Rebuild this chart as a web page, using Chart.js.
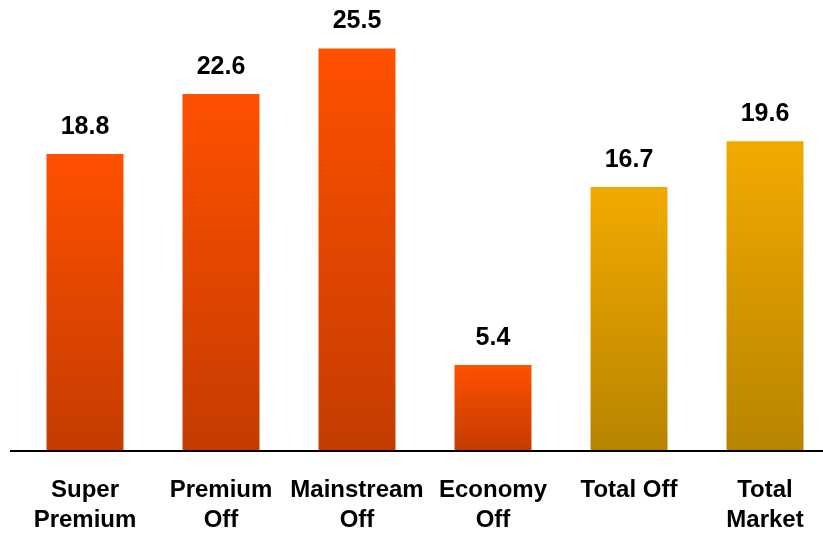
<!DOCTYPE html>
<html>
<head>
<meta charset="utf-8">
<script src="https://cdn.jsdelivr.net/npm/chart.js@4"></script>
<style>
  html, body { margin: 0; padding: 0; background: #fff; overflow: hidden; }
  #wrap { width: 840px; height: 535px; }
</style>
</head>
<body>
<div id="wrap"><canvas id="grafico" width="840" height="535"></canvas></div>
<script>
  var categorias = [['Super', 'Premium'], ['Premium', 'Off'], ['Mainstream', 'Off'], ['Economy', 'Off'], ['Total Off'], ['Total', 'Market']];
  var valores = [18.8, 22.6, 25.5, 5.4, 16.7, 19.6];
  var tipo = ['seg', 'seg', 'seg', 'seg', 'total', 'total'];

  var cores = {
    seg: ['#FF5000', '#C43C00'],
    total: ['#F2AA00', '#B88400']
  };

  function corBarra(context) {
    var chart = context.chart;
    var y = chart.scales && chart.scales.y;
    if (!chart.chartArea || !y) return cores[tipo[context.dataIndex]][0];
    var c = cores[tipo[context.dataIndex]];
    var topo = y.getPixelForValue(valores[context.dataIndex]);
    var base = y.getPixelForValue(0);
    var g = chart.ctx.createLinearGradient(0, topo, 0, base);
    g.addColorStop(0, c[0]);
    g.addColorStop(1, c[1]);
    return g;
  }

  var rotulos = {
    id: 'rotulos',
    afterDatasetsDraw: function (chart) {
      var ctx = chart.ctx;
      var meta = chart.getDatasetMeta(0);
      ctx.save();
      // linha do eixo
      ctx.strokeStyle = '#000';
      ctx.lineWidth = 2;
      ctx.beginPath();
      ctx.moveTo(10, chart.chartArea.bottom + 1);
      ctx.lineTo(chart.width, chart.chartArea.bottom + 1);
      ctx.stroke();
      // valores
      ctx.fillStyle = '#000';
      ctx.font = 'bold 25px "Liberation Sans", Arial, sans-serif';
      ctx.textAlign = 'center';
      ctx.textBaseline = 'middle';
      meta.data.forEach(function (bar, i) {
        ctx.fillText(valores[i].toFixed(1), bar.x, bar.y - 27);
      });
      ctx.restore();
    }
  };

  var ctx = document.getElementById('grafico').getContext('2d');
  var myChart = new Chart(ctx, {
    type: 'bar',
    data: {
      labels: categorias,
      datasets: [{
        data: valores,
        backgroundColor: corBarra,
        borderWidth: 0,
        barPercentage: 0.566,
        categoryPercentage: 1
      }]
    },
    options: {
      responsive: false,
      animation: false,
      layout: { padding: { top: 9, left: 17, right: 7, bottom: 0 } },
      plugins: {
        legend: { display: false },
        tooltip: { enabled: false }
      },
      scales: {
        x: {
          grid: { display: false, drawTicks: false },
          border: { display: false },
          afterFit: function (scale) { scale.height = 85; },
          ticks: {
            color: '#000',
            padding: 25,
            maxRotation: 0,
            autoSkip: false,
            font: { family: '"Liberation Sans", Arial, sans-serif', size: 24, weight: 'bold', lineHeight: 1.25 }
          }
        },
        y: {
          display: false,
          min: 0,
          max: 28
        }
      }
    },
    plugins: [rotulos]
  });
</script>
</body>
</html>
